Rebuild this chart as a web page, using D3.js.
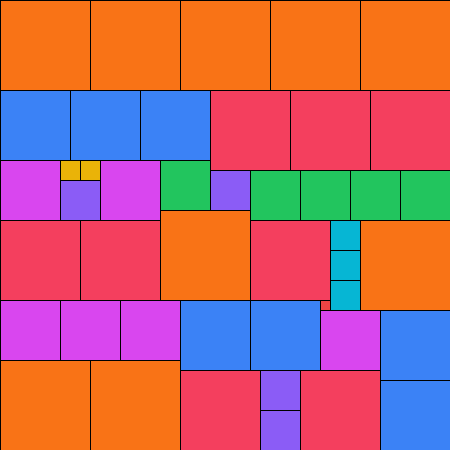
<!DOCTYPE html>
<html>
<head>
<meta charset="utf-8">
<script src="https://cdn.jsdelivr.net/npm/d3@7"></script>
<style>
  body { margin: 0; background: #fff; }
  svg { display: block; }
</style>
</head>
<body>
<svg width="450" height="450"></svg>
<script>
var svg = d3.select("svg"),
    width = +svg.attr("width"),
    height = +svg.attr("height");

// squares in grid units (45 x 45 board): side, column, row
var sides = [9,9,9,9,9, 7,7,7, 8,8,8, 6,2,2,4,6, 5,4,5,5,5,5,
             8,8,9,8,3,3,3,9, 6,6,6,7,7,1,6,7, 9,9,8,4,4,8,7];
var cols  = [0,9,18,27,36, 0,7,14, 21,29,37, 0,6,8,6,10, 16,21,25,30,35,40,
             0,8,16,25,33,33,33,36, 0,6,12,18,25,32,32,38, 0,9,18,26,26,30,38];
var rows  = [0,0,0,0,0, 9,9,9, 9,9,9, 16,16,16,18,16, 16,17,17,17,17,17,
             22,22,21,22,22,25,28,22, 30,30,30,30,30,30,31,31, 36,36,37,37,41,37,38];

// colour by side length
var sizeKeys = [1,2,3,4,5,6,7,8,9];
var sizeColors = ["#ef4444","#eab308","#06b6d4","#8b5cf6","#22c55e",
                  "#d946ef","#3b82f6","#f43f5e","#f97316"];

var color = d3.scaleOrdinal().domain(sizeKeys).range(sizeColors);
var x = d3.scaleLinear().domain([0, 45]).range([0, width]);
var y = d3.scaleLinear().domain([0, 45]).range([0, height]);

var squares = sides.map(function (s, i) {
    return {side: s, col: cols[i], row: rows[i]};
});

svg.append("g")
    .selectAll("rect")
    .data(squares)
    .enter().append("rect")
    .attr("x", function (d) { return x(d.col); })
    .attr("y", function (d) { return y(d.row); })
    .attr("width", function (d) { return x(d.col + d.side) - x(d.col); })
    .attr("height", function (d) { return y(d.row + d.side) - y(d.row); })
    .attr("fill", function (d) { return color(d.side); })
    .attr("stroke", "#000")
    .attr("stroke-width", 1)
    .attr("shape-rendering", "crispEdges");
</script>
</body>
</html>
